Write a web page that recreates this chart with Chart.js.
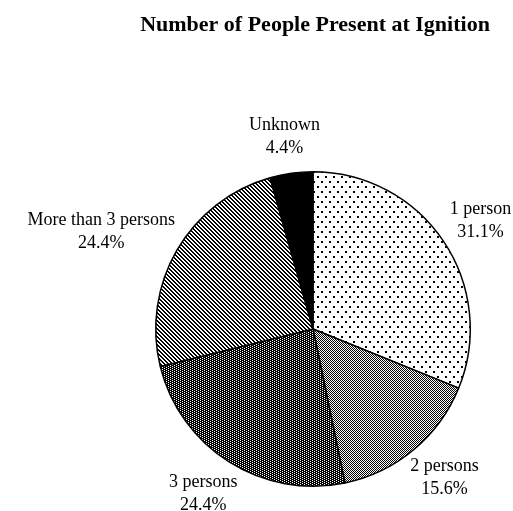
<!DOCTYPE html>
<html>
<head>
<meta charset="utf-8">
<script src="https://cdn.jsdelivr.net/npm/chart.js@4"></script>
<style>
  body { margin: 0; background: #fff; }
</style>
</head>
<body>
<canvas id="pieChart" width="513" height="511"></canvas>
<script>
var chartTitle = "Number of People Present at Ignition";
var categories = ["1 person", "2 persons", "3 persons", "More than 3 persons", "Unknown"];
var percents = [31.1, 15.6, 24.4, 24.4, 4.4];

// small tiles that mimic the printed fill patterns
function makePattern(w, h, paint) {
    var c = document.createElement("canvas");
    c.width = w;
    c.height = h;
    var g = c.getContext("2d");
    paint(g);
    return g.createPattern(c, "repeat");
}

var dots = makePattern(8, 10, function (g) {
    g.fillStyle = "#fff"; g.fillRect(0, 0, 8, 10);
    g.fillStyle = "#000";
    g.fillRect(1, 1, 2, 2);
    g.fillRect(5, 6, 2, 2);
});
var fineGray = makePattern(2, 2, function (g) {
    g.fillStyle = "#fff"; g.fillRect(0, 0, 2, 2);
    g.fillStyle = "#000";
    g.fillRect(0, 0, 1, 1);
    g.fillRect(1, 1, 1, 1);
});
var darkDots = makePattern(4, 2, function (g) {
    g.fillStyle = "#000"; g.fillRect(0, 0, 4, 2);
    g.fillStyle = "#fff";
    g.fillRect(0, 0, 1, 1);
    g.fillRect(2, 1, 1, 1);
});
var stripes = makePattern(4, 4, function (g) {
    g.fillStyle = "#fff"; g.fillRect(0, 0, 4, 4);
    g.fillStyle = "#000";
    for (var y = 0; y < 4; y++) {
        for (var x = 0; x < 4; x++) {
            var d = ((x - y) % 4 + 4) % 4;
            if (d < 2) g.fillRect(x, y, 1, 1);
        }
    }
});

// title centred over the pie, slice labels outside each slice
var sliceLabels = {
    id: "sliceLabels",
    afterDatasetsDraw: function (chart) {
        var ctx = chart.ctx;
        var meta = chart.getDatasetMeta(0);
        var area = chart.chartArea;
        ctx.save();
        ctx.fillStyle = "#000";
        ctx.textAlign = "center";
        ctx.textBaseline = "middle";

        ctx.font = "bold 22px 'Liberation Serif'";
        ctx.fillText(chartTitle, (area.left + area.right) / 2 + 2, 25);

        ctx.font = "18px 'Liberation Serif'";
        var lineH = 23;
        meta.data.forEach(function (arc, i) {
            var p = arc.getProps(["x", "y", "startAngle", "endAngle", "outerRadius"], true);
            var mid = (p.startAngle + p.endAngle) / 2;
            var lines = [categories[i], percents[i].toFixed(1) + "%"];
            var w = Math.max(ctx.measureText(lines[0]).width, ctx.measureText(lines[1]).width);
            var h = lineH * 2;
            var r = p.outerRadius + 14;
            var cx = p.x + Math.cos(mid) * r + Math.cos(mid) * w / 2;
            var cy = p.y + Math.sin(mid) * r + Math.sin(mid) * h / 2;
            ctx.fillText(lines[0], cx, cy - lineH / 2);
            ctx.fillText(lines[1], cx, cy + lineH / 2);
        });
        ctx.restore();
    }
};

new Chart("pieChart", {
    type: "pie",
    data: {
        labels: categories,
        datasets: [{
            data: percents,
            backgroundColor: [dots, fineGray, darkDots, stripes, "#000"],
            borderColor: "#000",
            borderWidth: 1.5
        }]
    },
    options: {
        responsive: false,
        animation: false,
        layout: {
            padding: { left: 155, right: 42, top: 171, bottom: 24 }
        },
        plugins: {
            legend: { display: false },
            tooltip: { enabled: false },
            title: { display: false }
        }
    },
    plugins: [sliceLabels]
});
</script>
</body>
</html>
